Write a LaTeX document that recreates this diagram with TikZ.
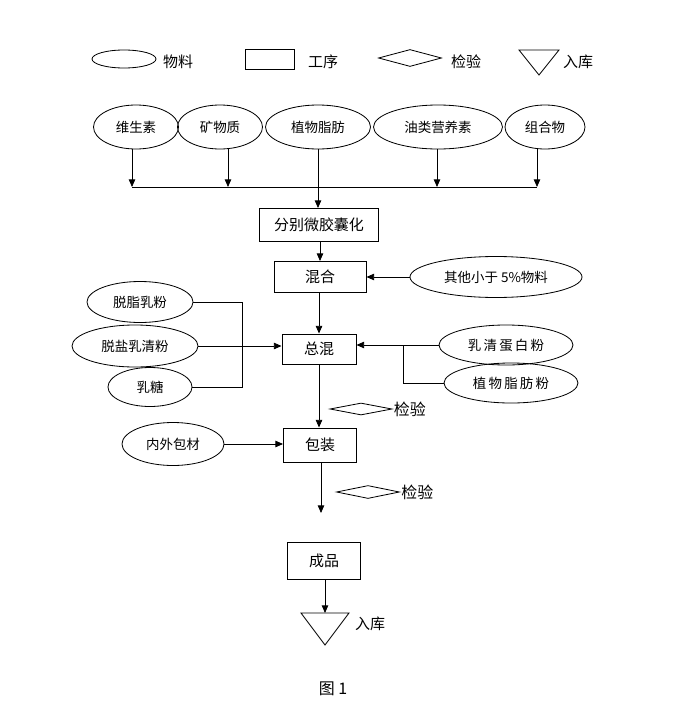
\documentclass[tikz,border=0pt]{standalone}
\usepackage{fontspec}
\setmainfont{Noto Sans CJK SC}
\usepackage{tikz}
\usetikzlibrary{positioning,arrows.meta,shapes.geometric}

\begin{document}
\begin{tikzpicture}[
    x=0.03cm, y=-0.03cm,
    line width=0.7pt,
    mat/.style={draw, ellipse, inner sep=0pt, minimum height=1.25cm, font=\fontsize{11.5}{13}\selectfont},
    proc/.style={draw, rectangle, line width=0.8pt, inner sep=0pt, font=\fontsize{12.8}{14}\selectfont},
    chk/.style={draw, diamond, inner sep=0pt, minimum width=1.89cm, minimum height=0.4cm},
    lbl/.style={inner sep=1pt, font=\fontsize{12.8}{14}\selectfont},
    arr/.style={-{Triangle[length=6.5pt,width=5.5pt]}},
  ]
  \useasboundingbox (0,0) rectangle (691,727);

  % legend
  \node[mat, minimum width=1.92cm, minimum height=0.54cm] (lmat) at (124,59) {};
  \node[lbl] at (178,62) {物料};
  \node[proc, minimum width=1.47cm, minimum height=0.6cm] (lproc) at (270,59) {};
  \node[lbl] at (323,62) {工序};
  \node[chk, minimum height=0.51cm] (lchk) at (410,58) {};
  \node[lbl] at (466,62) {检验};
  \draw (519,50) -- (559,50) -- (539,75) -- cycle;
  \node[lbl] at (578,62) {入库};

  % raw materials
  \node[mat, minimum width=2.55cm, minimum height=1.32cm] (wss) at (136,127) {维生素};
  \node[mat, minimum width=2.55cm, minimum height=1.32cm] (kwz) at (220,127) {矿物质};
  \node[mat, minimum width=3.15cm, minimum height=1.32cm] (zwzf) at (318,127) {植物脂肪};
  \node[mat, minimum width=3.87cm, minimum height=1.32cm] (ylyy) at (438,127) {油类营养素};
  \node[mat, minimum width=2.4cm, minimum height=1.32cm] (zhw) at (545,127) {组合物};

  \coordinate (b1) at (132,187);
  \coordinate (b2) at (228,187);
  \coordinate (b3) at (437,187);
  \coordinate (b4) at (537,187);
  \draw (b1) -- (b4);
  \draw[arr] (wss.south -| b1) -- (b1);
  \draw[arr] (kwz.south -| b2) -- (b2);
  \draw[arr] (ylyy.south -| b3) -- (b3);
  \draw[arr] (zhw.south -| b4) -- (b4);

  % process
  \node[proc, minimum width=3.57cm, minimum height=0.99cm] (wjn) at (319,225) {分别微胶囊化};
  \node[proc, minimum width=2.76cm, minimum height=0.93cm] (hh) at (320,277) {混合};
  \node[proc, minimum width=2.22cm, minimum height=0.9cm] (zh) at (319,349) {总混};
  \node[proc, minimum width=2.19cm, minimum height=1.02cm] (bz) at (320,445) {包装};
  \node[proc, minimum width=2.19cm, minimum height=1.11cm] (cp) at (324,561) {成品};

  \draw[arr] (zwzf.south) -- (zwzf.south |- wjn.north);
  \draw[arr] (wjn.south -| hh) -- (hh.north);
  \draw[arr] (hh.south -| zh) -- (zh.north);

  \node[mat, minimum width=5.16cm, minimum height=1.23cm] (qt) at (496,277) {其他小于 5\%物料};
  \draw[arr] (qt.west) -- (hh.east);

  % left inputs
  \node[mat, minimum width=3.18cm, minimum height=1.23cm] (tzrf) at (140,302) {脱脂乳粉};
  \node[mat, minimum width=3.78cm, minimum height=1.26cm] (txrq) at (135,346) {脱盐乳清粉};
  \node[mat, minimum width=2.52cm, minimum height=1.17cm] (rt) at (150,387) {乳糖};
  \coordinate (jl) at (242,0);
  \draw (tzrf.east) -- (tzrf.east -| jl) -- (rt.east -| jl) -- (rt.east);
  \draw[arr] (txrq.east) -- (txrq.east -| zh.west);

  % right inputs
  \node[mat, minimum width=4.02cm, minimum height=1.2cm] (rqdb) at (506,345) {乳\,清\,蛋\,白\,粉};
  \node[mat, minimum width=4.02cm, minimum height=1.2cm] (zwzff) at (511,383) {植\,物\,脂\,肪\,粉};
  \coordinate (jr) at (403,0);
  \draw[arr] (rqdb.west) -- (rqdb.west -| zh.east);
  \draw (rqdb.west -| jr) |- (zwzff.west);

  % packing
  \draw[arr] (zh.south) -- (zh.south |- bz.north);
  \node[chk, minimum width=1.86cm, minimum height=0.36cm] (chk1) at (361,409) {};
  \node[lbl, font=\fontsize{13.6}{15}\selectfont, right=0pt of chk1] {检验};

  \node[mat, minimum width=3.06cm, minimum height=1.29cm] (nwbc) at (173,444) {内外包材};
  \draw[arr] (nwbc.east) -- (nwbc.east -| bz.west);

  \coordinate (gap) at (321,513);
  \draw[arr] (bz.south -| gap) -- (gap);
  \node[chk, minimum height=0.39cm] (chk2) at (368,492) {};
  \node[lbl, font=\fontsize{13.6}{15}\selectfont, right=0pt of chk2] {检验};

  % storage
  \coordinate (rk) at (325,613);
  \draw (301,613) -- (349,613) -- (325,645) -- cycle;
  \draw[arr] (cp.south -| rk) -- (rk);
  \node[lbl] at (370,624) {入库};

  \node[lbl, font=\fontsize{13.6}{15}\selectfont] (cap) at (333,689) {图 1};
\end{tikzpicture}
\end{document}
